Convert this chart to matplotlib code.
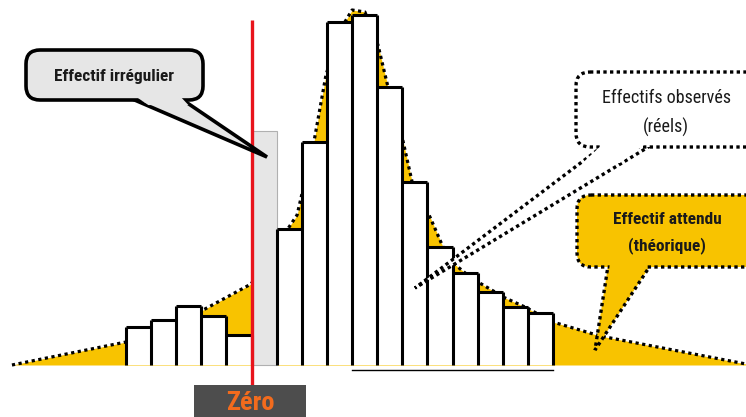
import numpy as np
import matplotlib.pyplot as plt
from matplotlib import font_manager
from matplotlib.patches import FancyBboxPatch, Polygon, Rectangle
from matplotlib.transforms import Affine2D

installed = {f.name for f in font_manager.fontManager.ttflist}
family = 'Liberation Sans'
for cand in ['Liberation Sans Narrow', 'Roboto Condensed', 'Open Sans Condensed']:
    if cand in installed:
        family = cand
        break
plt.rcParams['font.family'] = [family, 'DejaVu Sans']

# observed counts per class (bin 5 = irregular one)
heights = [38, 45, 59, 49, 30, 234, 136, 223, 343, 350, 278, 183, 118, 92, 73, 58, 52]
irregular_bin = 5

# expected (theoretical) curve
curve_x = [-4.54, 0.0, 3.07, 4.98, 6.81, 7.48, 7.96, 8.52, 9.00, 9.51, 10.03, 10.39,
           10.99, 11.39, 12.10, 12.62, 13.02, 13.50, 14.01, 14.69, 15.01, 15.88,
           16.99, 18.87, 24.68]
curve_y = [0, 23, 55, 81, 150, 223, 290, 335, 355, 353, 320, 282,
           228, 183, 148, 118, 102, 92, 83, 73, 68, 58,
           43, 29, 1]

gold = '#F8C300'

fig = plt.figure(figsize=(7.46, 4.17), dpi=100)
ax = fig.add_axes([0, 0, 1, 1])
ax.set_xlim(-5.016, 24.68)
ax.set_ylim(-52, 365)
ax.axis('off')

# pixel coords (origin top-left) for the callouts
px = Affine2D().scale(0.01, -0.01).translate(0, 4.17) + fig.dpi_scale_trans

ax.fill_between(curve_x, curve_y, 0, color=gold, lw=0, zorder=1)
ax.plot(curve_x, curve_y, color='black', lw=2.3, linestyle=(0, (1, 1.1)), zorder=2)

n = len(heights)
edges = np.arange(n + 1)
colors = ['#E6E6E6' if i == irregular_bin else 'white' for i in range(n)]
ax.bar(edges[:-1], heights, width=1, align='edge', color=colors, lw=0, zorder=3)
ax.bar(irregular_bin, heights[irregular_bin], width=1, align='edge', fill=False,
       edgecolor='#B0B0B0', lw=0.8, zorder=3)

# black outline (no bottom edge)
black = [h if i != irregular_bin else 0 for i, h in enumerate(heights)]
for i in range(n):
    if i == irregular_bin:
        continue
    ax.hlines(heights[i], edges[i], edges[i + 1], color='black', lw=2.2, zorder=4)
for e in range(n + 1):
    left = black[e - 1] if e > 0 else 0
    right = black[e] if e < n else 0
    top = max(left, right)
    if top > 0:
        ax.vlines(e, 0, top, color='black', lw=2.2, zorder=4)

ax.plot([9, 17], [-5, -5], color='black', lw=1, zorder=4)

# zero line
ax.vlines(irregular_bin, -20, 345, color='#E8141C', lw=2.4, zorder=5)


def callout(box, tail, fc, ls, text, tx, ty, size, weight, lw=2.4):
    x, y, w, h = box
    t = Polygon(tail, closed=True, fc=fc, ec='black', lw=lw, ls=ls,
                transform=px, zorder=5, joinstyle='miter')
    fig.add_artist(t)
    b = FancyBboxPatch((x, y), w, h, boxstyle='round,pad=0,rounding_size=14',
                       fc=fc, ec='black', lw=lw, ls=ls, transform=px, zorder=6)
    fig.add_artist(b)
    b1, b2, tip = [np.array(p, float) for p in tail]
    cover = [b1 + (2, -4), b2 + (-2, -4),
             b2 + 0.12 * (tip - b2) + (-2, 0), b1 + 0.12 * (tip - b1) + (2, 0)]
    fig.add_artist(Polygon(cover, closed=True, fc=fc, lw=0, transform=px, zorder=7))
    fig.text(tx, ty, text, transform=px, ha='center', va='center', fontsize=size,
             fontweight=weight, color='#1A1A1A', linespacing=1.7, zorder=8)


callout((26, 50, 177, 50), [(130, 98), (180, 98), (267, 157)], '#E6E6E6', '-',
        'Effectif irrégulier', 114, 76, 12.5, 'bold', lw=2.6)
callout((576, 72, 200, 75), [(603, 146), (650, 146), (415, 288)], 'white', (0, (1, 1)),
        'Effectifs observés\n(réels)', 666, 113, 13, 'normal')
callout((577, 195, 200, 72), [(608, 266), (650, 266), (595, 350)], gold, (0, (1, 1)),
        'Effectif attendu\n(théorique)', 667, 233, 12.5, 'bold')

fig.add_artist(Rectangle((194, 385), 112, 40, fc='#4D4D4D', lw=0, transform=px, zorder=6))
fig.text(250, 403, 'Zéro', transform=px, ha='center', va='center', fontsize=19,
         fontweight='bold', color='#F26B1D', zorder=8)

fig.savefig('out.png', dpi=100)
